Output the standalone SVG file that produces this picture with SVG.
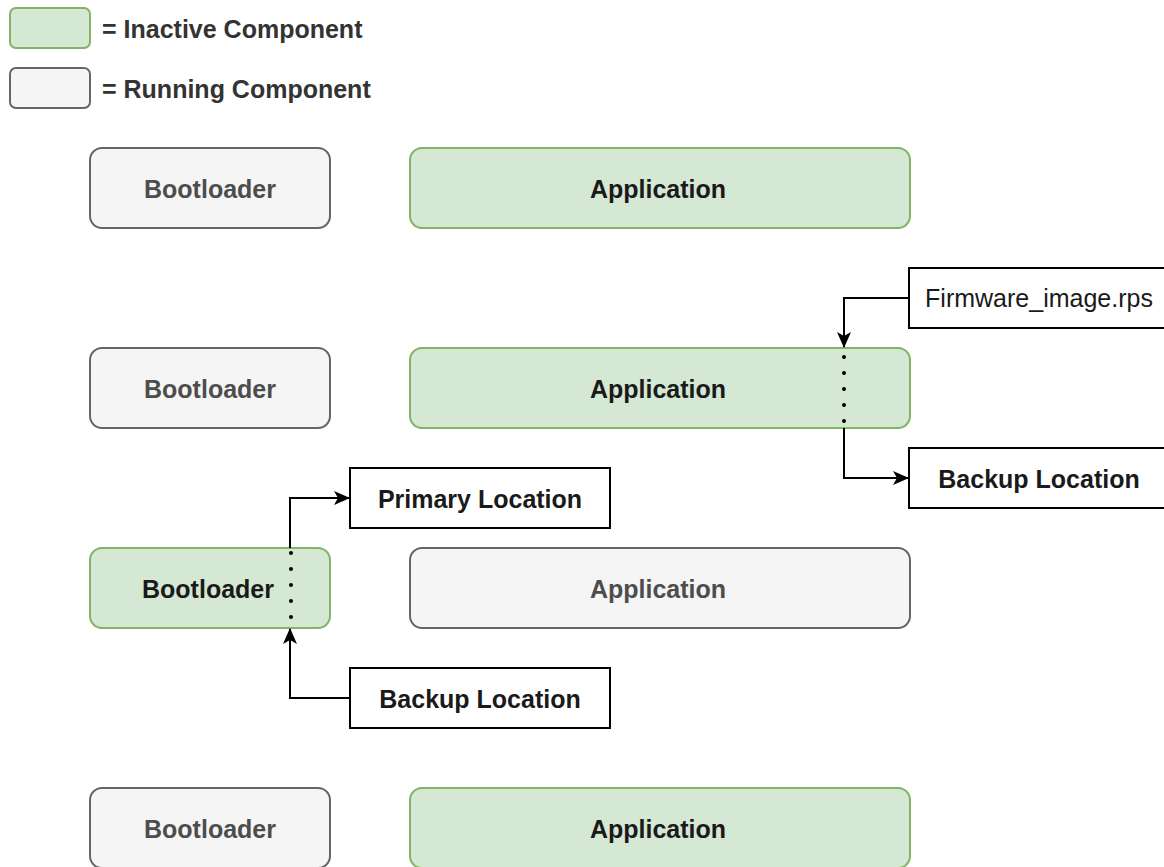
<svg xmlns="http://www.w3.org/2000/svg" width="1164" height="867" viewBox="0 0 1164 867">
<defs>
<style>
.t{font-family:"Liberation Sans",Arial,sans-serif;font-size:25px;font-weight:bold;text-anchor:middle;dominant-baseline:central}
.g{fill:#d5e8d4;stroke:#82b366;stroke-width:2}
.r{fill:#f5f5f5;stroke:#666666;stroke-width:2}
.b{fill:#ffffff;stroke:#000000;stroke-width:2}
.tg{fill:#1a1a1a}
.tr{fill:#4d4d4d}
.tb{fill:#1a1a1a}
.c{fill:none;stroke:#000;stroke-width:2}
.d{fill:none;stroke:#000;stroke-width:4;stroke-linecap:round;stroke-dasharray:0 16}
</style>
<marker id="ah" viewBox="0 0 16 16" refX="15" refY="8" markerWidth="16" markerHeight="16" markerUnits="userSpaceOnUse" orient="auto">
<path d="M0,1 L16,8 L0,15 L4,8 z" fill="#000"/>
</marker>
</defs>
<rect width="1164" height="867" fill="#ffffff"/>
<g id="legend">
<rect class="g" x="10" y="8" width="80" height="40" rx="6"/>
<text class="t" x="102" y="29" style="text-anchor:start" fill="#333333">= Inactive Component</text>
<rect class="r" x="10" y="68" width="80" height="40" rx="6"/>
<text class="t" x="102" y="89" style="text-anchor:start" fill="#333333">= Running Component</text>
</g>
<g id="boot1"><rect class="r" x="90" y="148" width="240" height="80" rx="12"/><text class="t tr" x="210" y="189">Bootloader</text></g>
<g id="app1"><rect class="g" x="410" y="148" width="500" height="80" rx="12"/><text class="t tg" x="658" y="189">Application</text></g>
<g id="boot2"><rect class="r" x="90" y="348" width="240" height="80" rx="12"/><text class="t tr" x="210" y="389">Bootloader</text></g>
<g id="app2"><rect class="g" x="410" y="348" width="500" height="80" rx="12"/><text class="t tg" x="658" y="389">Application</text></g>
<g id="fw"><rect class="b" x="909" y="268" width="260" height="60"/><text class="t tb" x="1039" y="298" style="font-weight:normal">Firmware_image.rps</text></g>
<g id="backup1"><rect class="b" x="909" y="448" width="260" height="60"/><text class="t tb" x="1039" y="479">Backup Location</text></g>
<g id="primary"><rect class="b" x="350" y="468" width="260" height="60"/><text class="t tb" x="480" y="499">Primary Location</text></g>
<g id="boot3"><rect class="g" x="90" y="548" width="240" height="80" rx="12"/><text class="t tg" x="208" y="589">Bootloader</text></g>
<g id="app3"><rect class="r" x="410" y="548" width="500" height="80" rx="12"/><text class="t tr" x="658" y="589">Application</text></g>
<g id="backup2"><rect class="b" x="350" y="668" width="260" height="60"/><text class="t tb" x="480" y="699">Backup Location</text></g>
<g id="boot4"><rect class="r" x="90" y="788" width="240" height="80" rx="12"/><text class="t tr" x="210" y="829">Bootloader</text></g>
<g id="app4"><rect class="g" x="410" y="788" width="500" height="80" rx="12"/><text class="t tg" x="658" y="829">Application</text></g>
<g id="connectors">
<path class="c" d="M909,298 H844 V347" marker-end="url(#ah)"/>
<path class="d" d="M844,357 V422"/>
<path class="c" d="M844,428 V478 H908" marker-end="url(#ah)"/>
<path class="c" d="M290,548 V498 H349" marker-end="url(#ah)"/>
<path class="d" d="M291,553 V618"/>
<path class="c" d="M350,698 H290 V629" marker-end="url(#ah)"/>
</g>
</svg>
